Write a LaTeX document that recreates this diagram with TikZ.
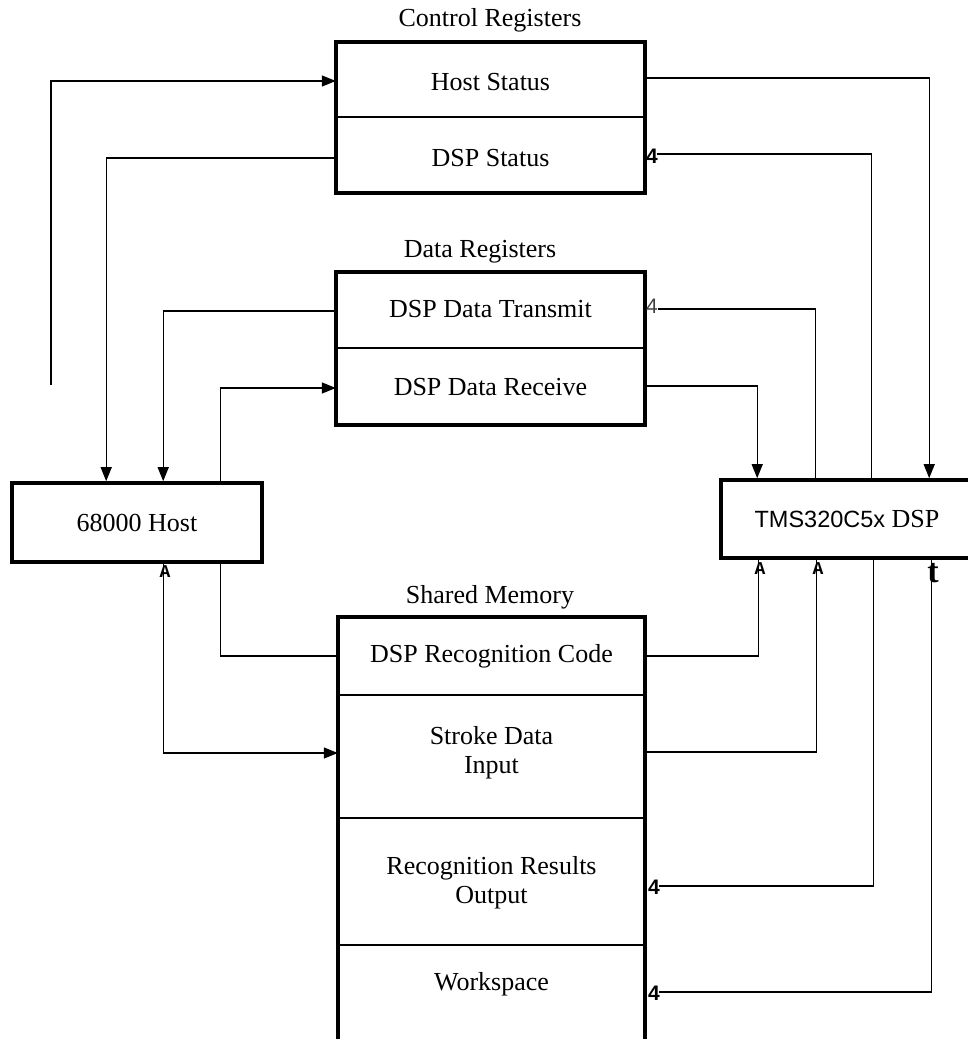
\documentclass[tikz,border=0pt]{standalone}
\usepackage{fontspec}
\setmainfont{Liberation Serif}
\newfontfamily\arialf{Liberation Sans}
\newfontfamily\monof{Liberation Mono}
\usetikzlibrary{arrows.meta,calc}
\tikzset{
  box/.style={draw, line width=3.6pt, fill=white, inner sep=0pt},
  cell/.style={inner sep=0pt, font=\fontsize{26}{29}\selectfont, align=center},
  title/.style={inner sep=0pt, font=\fontsize{26}{29}\selectfont},
  divider/.style={line width=1.8pt},
  wire/.style={line width=1.3pt},
  arr/.style={wire, -{Triangle[length=14pt,width=11pt]}},
  gfour/.style={inner sep=0pt, font=\arialf\bfseries\fontsize{21}{21}\selectfont},
  gfourthin/.style={inner sep=0pt, text=black!75, font=\arialf\fontsize{21}{21}\selectfont},
  gA/.style={inner sep=0pt, font=\monof\bfseries\fontsize{18}{18}\selectfont},
  gt/.style={inner sep=0pt, font=\bfseries\fontsize{34}{34}\selectfont},
}
\begin{document}
\begin{tikzpicture}[x=1pt,y=-1pt]
\useasboundingbox (0,0) rectangle (968,1039);
\clip (0,0) rectangle (968,1039);

% ---- Control registers
\node[title] (tctrl) at (490,20) {Control Registers};
\node[box, minimum width=309pt, minimum height=151pt] (ctrl) at (490.5,117.5) {};
\node[cell, minimum width=309pt, minimum height=75pt] (hs) at (490.5,82) {Host Status};
\node[cell, minimum width=309pt, minimum height=76pt] (ds) at (490.5,158) {DSP Status};
\draw[divider] ([yshift=-35pt]hs.west) -- ([yshift=-35pt]hs.east);

% ---- Data registers
\node[title] (tdata) at (480,252) {Data Registers};
\node[box, minimum width=309pt, minimum height=153pt] (data) at (490.5,348.5) {};
\node[cell, minimum width=309pt, minimum height=77pt] (dt) at (490.5,309) {DSP Data Transmit};
\node[cell, minimum width=309pt, minimum height=76pt] (dr) at (490.5,387) {DSP Data Receive};
\draw[divider] (dt.south west) -- (dt.south east);

% ---- Shared memory
\node[title] (tshm) at (490,597) {Shared Memory};
\node[box, minimum width=307pt, minimum height=443pt] (shm) at (491.5,838.5) {};
\node[cell, minimum width=307pt, minimum height=78pt] (code) at (491.5,656) {DSP Recognition Code};
\node[cell, minimum width=307pt, minimum height=123pt] (stroke) at (491.5,753) {Stroke Data\\Input};
\node[cell, minimum width=307pt, minimum height=126pt] (res) at (491.5,883) {Recognition Results\\Output};
\node[cell, minimum width=307pt, minimum height=78pt] (ws) at (491.5,984) {Workspace};
\draw[divider] (code.south west) -- (code.south east);
\draw[divider] ([yshift=2pt]res.north west) -- ([yshift=2pt]res.north east);
\draw[divider] (ws.north west) -- (ws.north east);

% ---- Host and DSP
\node[box, minimum width=250pt, minimum height=79pt, font=\fontsize{26}{29}\selectfont] (host) at (137,522.5) {68000 Host};
\node[box, minimum width=252pt, minimum height=78pt, font=\fontsize{26}{29}\selectfont] (dsp) at (847,519) {{\arialf\fontsize{23.5}{29}\selectfont TMS320C5x} DSP};

% ---- glyph arrowheads (as printed)
\node[gfour] (g1) at (652,156) {4};
\node[gfourthin] (g2) at (652,306) {4};
\node[gfour] (g3) at (654,887) {4};
\node[gfour] (g4) at (654,993) {4};

% ---- connectors
\coordinate (free) at (51,385);
\draw[arr] (free) |- ([yshift=1pt]hs.west);
\draw[arr] (ds.west) -| ([xshift=96pt]host.north west);
\draw[arr] ([yshift=4pt]hs.east) -| ([xshift=210pt]dsp.north west);
\draw[wire] ([xshift=152pt]dsp.north west) |- ([xshift=-1pt,yshift=2pt]g1.east);
\draw[arr] ([yshift=-2pt]dt.west) -| ([xshift=153pt]host.north west);
\draw[arr] ([xshift=210pt]host.north west) |- ([yshift=-1pt]dr.west);
\draw[arr] ([yshift=1pt]dr.east) -| ([xshift=38pt]dsp.north west);
\draw[wire] ([xshift=96pt]dsp.north west) |- ([yshift=-3pt]g2.east);
\draw[wire] (code.west) -| ([xshift=210pt]host.south west);
\draw[arr] ([xshift=153pt]host.south west) |- (stroke.west);
\draw[wire] (code.east) -| ([xshift=39pt]dsp.south west);
\draw[wire] ([yshift=1pt]stroke.east) -| ([xshift=97pt]dsp.south west);
\draw[wire] ([xshift=154pt]dsp.south west) |- ([xshift=-1pt,yshift=1pt]g3.east);
\draw[wire] ([xshift=212pt]dsp.south west) |- ([xshift=-1pt,yshift=1pt]g4.east);

% ---- glyph arrowheads on the DSP / host side
\node[gA] (a1) at (165,572) {A};
\node[gA] (a2) at (760,569) {A};
\node[gA] (a3) at (818,569) {A};
\node[gt] (t1) at (933,573) {t};
\end{tikzpicture}
\end{document}
